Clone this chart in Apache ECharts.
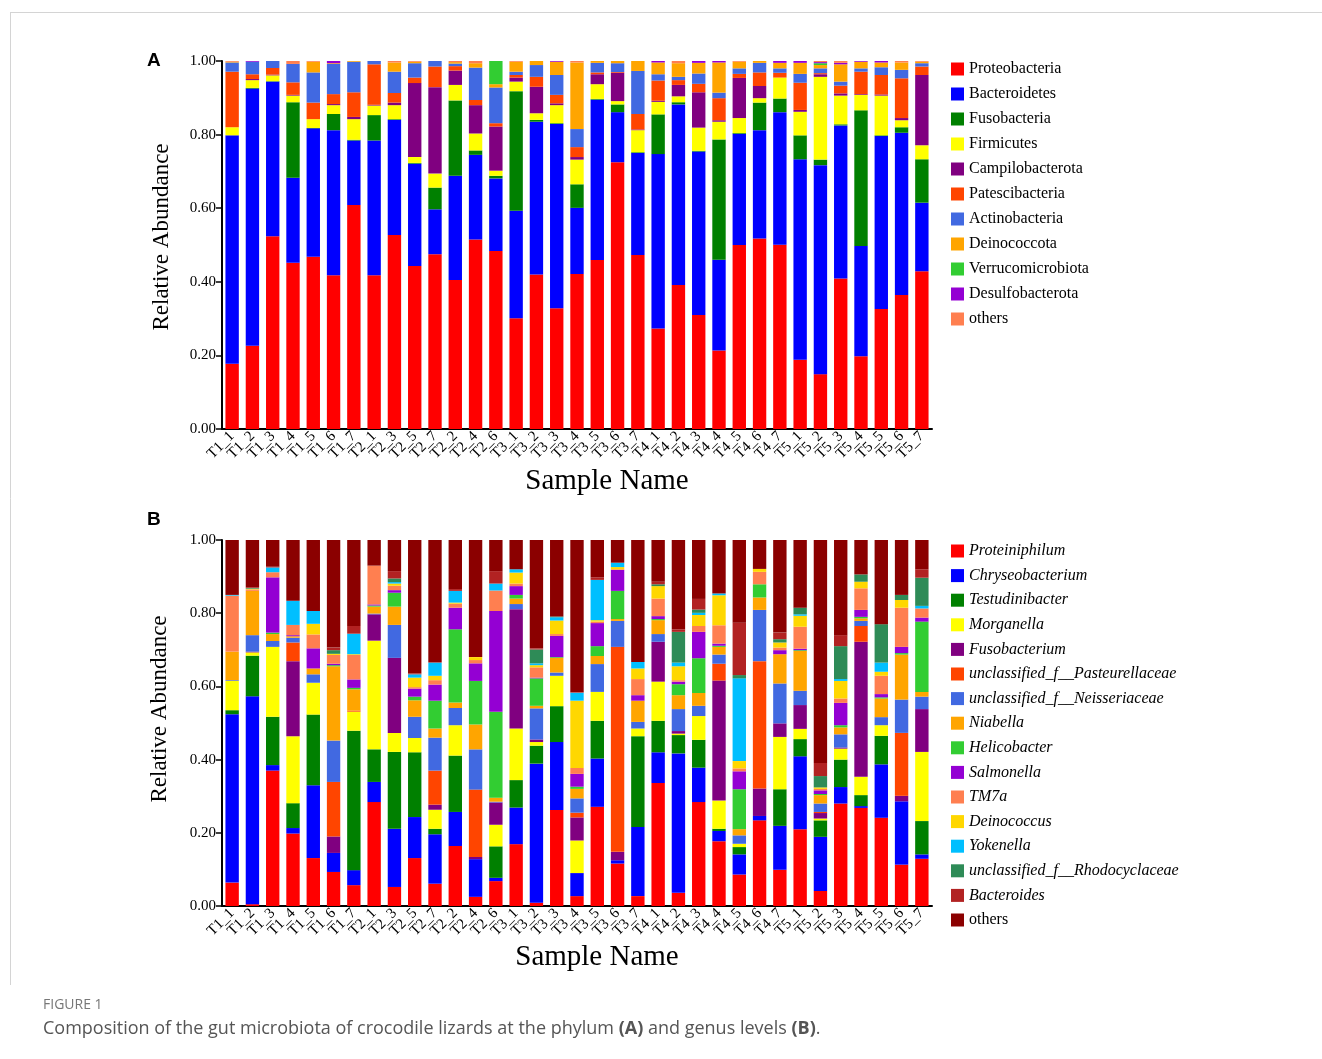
<!DOCTYPE html>
<html>
<head>
<meta charset="utf-8">
<script src="https://cdn.jsdelivr.net/npm/echarts@6/dist/echarts.min.js"></script>
<style>
  html, body { margin: 0; padding: 0; background: #fff; }
  #chart { width: 1322px; height: 1059px; }
</style>
</head>
<body>
<div id="chart"></div>
<script>
// Sample order along the x axis (both panels)
const samples = ['T1_1','T1_2','T1_3','T1_4','T1_5','T1_6','T1_7',
  'T2_1','T2_3','T2_5','T2_7','T2_2','T2_4','T2_6',
  'T3_1','T3_2','T3_3','T3_4','T3_5','T3_6','T3_7',
  'T4_1','T4_2','T4_3','T4_4','T4_5','T4_6','T4_7',
  'T5_1','T5_2','T5_3','T5_4','T5_5','T5_6','T5_7'];

const yTicks = [0, 0.2, 0.4, 0.6, 0.8, 1.0];

// ---- Phylum level relative abundance (panel A) ----
const proteobacteria   = [.177,.226,.524,.452,.468,.418,.609,.418,.527,.443,.475,.405,.515,.484,.301,.420,.328,.421,.459,.725,.473,.273,.391,.310,.213,.500,.518,.501,.188,.149,.409,.198,.326,.364,.429];
const bacteroidetes    = [.621,.699,.420,.231,.349,.394,.175,.366,.313,.278,.122,.283,.230,.197,.292,.415,.501,.180,.436,.136,.277,.474,.491,.444,.247,.302,.294,.360,.545,.568,.416,.299,.470,.441,.186];
const fusobacteria     = [0,.002,.001,.205,.001,.044,.002,.069,.002,.002,.059,.205,.012,.007,.325,.005,.002,.064,.002,.021,.002,.108,.006,.002,.327,.002,.075,.037,.065,.015,.003,.369,.002,.015,.118];
const firmicutes       = [.022,.021,.016,.018,.024,.024,.056,.026,.038,.016,.038,.042,.046,.014,.026,.018,.049,.067,.040,.009,.060,.034,.016,.063,.048,.041,.012,.057,.064,.225,.078,.042,.108,.019,.038];
const campilobacterota = [0,.003,.002,.002,0,.003,.006,.002,.007,.201,.235,.039,.077,.120,.011,.072,.005,.007,.027,.077,.002,.003,.031,.096,.004,.109,.033,0,.005,.007,.006,.002,.003,.006,.191];
const patescibacteria  = [.151,.013,.018,.034,.045,.027,.067,.110,.026,.015,.056,.012,.014,.009,.007,.027,.023,.027,.005,.002,.042,.055,.013,.023,.060,.011,.037,.013,.074,.003,.021,.061,.053,.108,.023];
const actinobacteria   = [.025,.034,.019,.050,.082,.082,.083,.009,.058,.039,.015,.007,.088,.097,.009,.032,.054,.049,.026,.024,.117,.017,.009,.028,.015,.015,.026,.012,.024,.013,.011,.009,.021,.023,.009];
const deinococcota     = [.002,0,0,0,.029,.002,.002,0,.025,.004,0,.004,.012,.009,.027,.011,.036,.181,.005,.006,.027,.032,.037,.029,.082,.018,.005,.015,.030,.009,.047,.018,.013,.020,.004];
const verrucomicrobiota= [0,0,0,0,0,0,0,0,0,0,0,0,0,.063,0,0,0,0,0,0,0,0,0,0,0,0,0,0,0,.005,0,0,0,0,0];
const desulfobacterota = [0,.002,0,0,0,.006,0,0,0,0,0,0,0,0,0,0,.002,0,0,0,0,.004,0,.005,.004,0,0,.005,.005,.003,.004,.002,.004,0,0];
const phylumOthers     = [.002,0,0,.008,.002,0,0,0,.004,.002,0,.003,.006,0,.002,0,0,.004,0,0,0,0,.006,0,0,.002,0,0,0,.003,.005,0,0,.004,.002];

// ---- Genus level relative abundance (panel B) ----
const proteiniphilum   = [.064,.005,.370,.198,.131,.093,.057,.284,.052,.131,.061,.164,.025,.068,.169,.009,.262,.027,.271,.116,.027,.336,.036,.284,.177,.086,.234,.099,.210,.041,.280,.268,.241,.113,.129];
const chryseobacterium = [.460,.568,.015,.015,.199,.052,.041,.055,.159,.112,.135,.093,.103,.009,.100,.380,.186,.063,.132,.009,.189,.084,.381,.094,.028,.055,.012,.120,.199,.148,.045,.005,.146,.173,.012];
const testudinibacter  = [.011,.111,.132,.068,.193,0,.381,.089,.210,.177,.015,.154,0,.086,.075,.049,.098,0,.103,0,.248,.086,.050,.076,.006,.020,0,.100,.047,.045,.075,.030,.078,0,.091];
const morganella       = [.080,.009,.191,.183,.087,0,.052,.297,.052,.039,.052,.083,0,.059,.141,.010,.083,.089,.079,0,.021,.107,.004,.065,.077,.009,0,.143,.028,.005,.030,.050,.029,0,.189];
const fusobacterium    = [0,.002,0,.205,0,.045,0,.072,.205,0,.014,0,.006,.061,.326,.007,0,.063,0,.023,0,.109,.007,0,.328,0,.075,.037,.065,.015,.003,.369,0,.015,.117];
const pasteurellaceae  = [0,0,0,.051,0,.149,.003,0,0,0,.093,0,.184,0,0,0,0,.013,0,.560,0,0,0,0,.046,0,.348,0,0,.003,0,.043,0,.172,0];
const neisseriaceae    = [.002,.045,.016,.013,.023,.113,0,.002,.090,.058,.090,.047,.110,.002,.014,.085,.009,.039,.076,.071,.018,.021,.060,.028,.025,.023,.140,.109,.039,.023,.036,.014,.022,.091,.034];
const niabella         = [.078,.121,.019,.004,.016,.203,.058,.019,.050,.045,.025,.015,.068,.011,.015,.007,.040,.026,.022,.005,.058,.038,.038,.035,.021,.017,.034,.080,.109,.023,.019,.007,.051,.123,.013];
const helicobacter     = [0,0,.004,0,0,.003,.004,.003,.038,.010,.076,.200,.119,.235,.010,.075,.002,.006,.027,.077,0,.003,.030,.095,.003,.109,.036,0,.002,.003,.006,.004,.003,.004,.192];
const salmonella       = [0,0,.151,.003,.055,.004,.023,.003,.007,.022,.044,.059,.048,.275,.024,.002,.058,.035,.063,.057,.015,.008,.007,.072,.006,.049,0,.011,.004,.010,.061,.019,.009,.017,.011];
const tm7a             = [.153,.004,.014,.028,.038,.024,.067,.106,.012,.004,.012,.011,.009,.056,.007,.028,.005,.016,.004,.002,.044,.048,.004,.016,.050,.008,.034,.007,.060,.004,.012,.059,.050,.107,.025];
const deinococcus      = [0,.002,0,0,.029,.003,.002,0,.006,.026,.012,.003,.008,0,.030,.006,.037,.184,.004,.006,.029,.034,.038,.030,.082,.020,.008,.014,.030,.004,.048,.018,.011,.021,0];
const yokenella        = [.002,0,.013,.066,.035,0,.056,0,.004,.009,.036,.032,0,.019,.009,.005,.009,.022,.110,.012,.018,0,.010,.006,.005,.226,0,0,.004,0,.005,0,.025,0,.007];
const rhodocyclaceae   = [0,.002,0,0,0,.010,0,0,.010,0,0,0,0,0,0,.038,.002,0,0,0,0,.005,.084,.009,0,.009,0,.009,.018,.031,.090,.020,.105,.014,.077];
const bacteroides      = [0,.002,.002,0,0,.007,.021,0,.020,.002,0,.005,0,.034,0,.003,0,.002,.007,0,0,.007,.007,.029,0,.143,0,.018,0,.036,.030,0,0,0,.023];
const genusOthers      = [.150,.129,.073,.166,.194,.294,.235,.070,.085,.365,.335,.134,.320,.085,.080,.296,.209,.415,.102,.062,.333,.114,.244,.161,.146,.226,.079,.253,.185,.609,.260,.094,.230,.150,.080];

const phylumSeries = [
  ['Proteobacteria', proteobacteria], ['Bacteroidetes', bacteroidetes], ['Fusobacteria', fusobacteria],
  ['Firmicutes', firmicutes], ['Campilobacterota', campilobacterota], ['Patescibacteria', patescibacteria],
  ['Actinobacteria', actinobacteria], ['Deinococcota', deinococcota], ['Verrucomicrobiota', verrucomicrobiota],
  ['Desulfobacterota', desulfobacterota], ['others', phylumOthers]
];
const genusSeries = [
  ['Proteiniphilum', proteiniphilum], ['Chryseobacterium', chryseobacterium], ['Testudinibacter', testudinibacter],
  ['Morganella', morganella], ['Fusobacterium', fusobacterium], ['unclassified_f__Pasteurellaceae', pasteurellaceae],
  ['unclassified_f__Neisseriaceae', neisseriaceae], ['Niabella', niabella], ['Helicobacter', helicobacter],
  ['Salmonella', salmonella], ['TM7a', tm7a], ['Deinococcus', deinococcus], ['Yokenella', yokenella],
  ['unclassified_f__Rhodocyclaceae', rhodocyclaceae], ['Bacteroides', bacteroides], ['others', genusOthers]
];

const phylumColors = ['#FF0000','#0000FF','#008000','#FFFF00','#800080','#FF4500','#4169E1','#FFA500','#32CD32','#9400D3','#FF7F50'];
const genusColors  = ['#FF0000','#0000FF','#008000','#FFFF00','#800080','#FF4500','#4169E1','#FFA500','#32CD32','#9400D3','#FF7F50','#FFD700','#00BFFF','#2E8B57','#B22222','#8B0000'];

const SERIF = '"Liberation Serif", "Times New Roman", serif';
const SANS = '"Open Sans", "Noto Sans", sans-serif';

function xAxisFor(gridIndex) {
  return {
    type: 'category', gridIndex, data: samples,
    axisLine: { lineStyle: { color: '#000', width: 2 } },
    axisTick: { alignWithLabel: true, length: 5, lineStyle: { color: '#000', width: 1.5 } },
    axisLabel: { rotate: 45, fontFamily: SERIF, fontSize: 15, color: '#000', margin: 5, interval: 0 }
  };
}
function yAxisFor(gridIndex) {
  return {
    type: 'value', gridIndex, min: yTicks[0], max: yTicks[yTicks.length - 1], interval: 0.2,
    axisLine: { show: true, lineStyle: { color: '#000', width: 2 } },
    axisTick: { show: true, length: 6, lineStyle: { color: '#000', width: 1.5 } },
    splitLine: { show: false },
    axisLabel: { fontFamily: SERIF, fontSize: 15, color: '#000', margin: 6, formatter: v => v.toFixed(2) }
  };
}

const series = [];
phylumSeries.forEach(([name, data], i) => series.push({
  id: 'p' + i, name, type: 'bar', stack: 'phylum', xAxisIndex: 0, yAxisIndex: 0,
  data, barCategoryGap: '34%', itemStyle: { color: phylumColors[i] }
}));
genusSeries.forEach(([name, data], i) => series.push({
  id: 'g' + i, name, type: 'bar', stack: 'genus', xAxisIndex: 1, yAxisIndex: 1,
  data, barCategoryGap: '34%', itemStyle: { color: genusColors[i] }
}));

const chart = echarts.init(document.getElementById('chart'), null, { renderer: 'canvas' });
chart.setOption({
  animation: false,
  backgroundColor: '#fff',
  grid: [
    { left: 222, top: 61, width: 710, height: 368 },
    { left: 222, top: 540, width: 710, height: 366 }
  ],
  xAxis: [xAxisFor(0), xAxisFor(1)],
  yAxis: [yAxisFor(0), yAxisFor(1)],
  legend: [
    {
      left: 951, top: 61, padding: 0, orient: 'vertical', itemWidth: 13, itemHeight: 13, itemGap: 9,
      icon: 'rect', selectedMode: false,
      data: phylumSeries.map(([name], i) => ({ name, itemStyle: { color: phylumColors[i] } })),
      textStyle: { fontFamily: SERIF, fontSize: 16, color: '#000', lineHeight: 16 }
    },
    {
      left: 951, top: 543, padding: 0, orient: 'vertical', itemWidth: 13, itemHeight: 13, itemGap: 8.6,
      icon: 'rect', selectedMode: false,
      data: genusSeries.map(([name], i) => ({ name, itemStyle: { color: genusColors[i] } })),
      formatter: name => name === 'others' ? '{n|others}' : '{i|' + name + '}',
      textStyle: {
        fontFamily: SERIF, fontSize: 16, color: '#000', lineHeight: 16,
        rich: {
          i: { fontFamily: SERIF, fontSize: 16, fontStyle: 'italic', color: '#000', lineHeight: 16 },
          n: { fontFamily: SERIF, fontSize: 16, color: '#000', lineHeight: 16 }
        }
      }
    }
  ],
  graphic: [
    { type: 'line', silent: true, shape: { x1: 10, y1: 12.5, x2: 1322, y2: 12.5 }, style: { stroke: '#d4d4d4', lineWidth: 1 } },
    { type: 'line', silent: true, shape: { x1: 10.5, y1: 12, x2: 10.5, y2: 985 }, style: { stroke: '#d4d4d4', lineWidth: 1 } },
    { type: 'text', x: 147, y: 51, style: { text: 'A', font: 'bold 19px "Liberation Sans", Arial, sans-serif', fill: '#000' } },
    { type: 'text', x: 147, y: 510, style: { text: 'B', font: 'bold 19px "Liberation Sans", Arial, sans-serif', fill: '#000' } },
    { type: 'text', x: 162, y: 237, rotation: Math.PI / 2,
      style: { text: 'Relative Abundance', font: '23px ' + SERIF, fill: '#000', align: 'center', verticalAlign: 'middle' } },
    { type: 'text', x: 160, y: 709, rotation: Math.PI / 2,
      style: { text: 'Relative Abundance', font: '23px ' + SERIF, fill: '#000', align: 'center', verticalAlign: 'middle' } },
    { type: 'text', x: 607, y: 481,
      style: { text: 'Sample Name', font: '29px ' + SERIF, fill: '#000', align: 'center', verticalAlign: 'middle' } },
    { type: 'text', x: 597, y: 957,
      style: { text: 'Sample Name', font: '29px ' + SERIF, fill: '#000', align: 'center', verticalAlign: 'middle' } },
    { type: 'text', x: 43, y: 998,
      style: { text: 'FIGURE 1', font: '14px ' + SANS, fill: '#777' } },
    { type: 'text', x: 43, y: 1020,
      style: {
        text: 'Composition of the gut microbiota of crocodile lizards at the phylum {b|(A)} and genus levels {b|(B)}.',
        font: '18px ' + SANS, fill: '#555',
        rich: { b: { fontWeight: 'bold', fontSize: 18, fontFamily: SANS, fill: '#555' } }
      } }
  ],
  series
});
</script>
</body>
</html>
